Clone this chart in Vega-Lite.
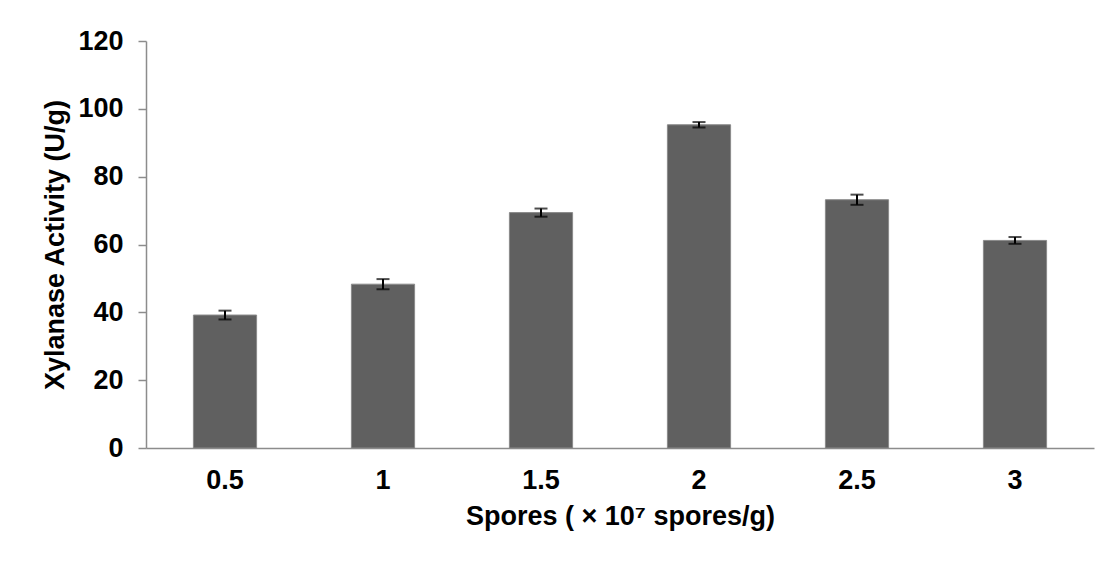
{
  "$schema": "https://vega.github.io/schema/vega-lite/v6.json",
  "autosize": {"type": "none"},
  "width": 948,
  "height": 407,
  "padding": {"left": 146, "top": 41, "right": 11, "bottom": 113},
  "background": "white",
  "config": {
    "view": {"stroke": null},
    "font": "Liberation Sans",
    "axis": {"labelFont": "Liberation Sans", "titleFont": "Liberation Sans", "labelFontWeight": "bold", "titleFontWeight": "bold", "labelColor": "black", "titleColor": "black", "domainColor": "#8c8c8c", "tickColor": "#8c8c8c", "grid": false}
  },
  "data": {
    "values": [
      {"spores": "0.5", "value": 39.2, "lo": 37.9, "hi": 40.5},
      {"spores": "1", "value": 48.3, "lo": 46.8, "hi": 49.8},
      {"spores": "1.5", "value": 69.4, "lo": 68.2, "hi": 70.6},
      {"spores": "2", "value": 95.3, "lo": 94.5, "hi": 96.1},
      {"spores": "2.5", "value": 73.2, "lo": 71.7, "hi": 74.7},
      {"spores": "3", "value": 61.2, "lo": 60.2, "hi": 62.2}
    ]
  },
  "encoding": {
    "x": {
      "field": "spores", "type": "ordinal", "sort": null,
      "scale": {"paddingInner": 0.6, "paddingOuter": 0.3},
      "axis": {"title": "Spores ( × 10⁷ spores/g)", "labelAngle": 0, "labelFontSize": 27, "titleFontSize": 27, "ticks": false, "labelPadding": 19, "titlePadding": 10, "domainWidth": 1.5}
    }
  },
  "layer": [
    {
      "mark": {"type": "bar", "color": "#606060", "stroke": "#8a8a8a", "strokeWidth": 1},
      "encoding": {
        "y": {
          "field": "value", "type": "quantitative",
          "scale": {"domain": [0, 120]},
          "axis": {"title": "Xylanase Activity (U/g)", "values": [0, 20, 40, 60, 80, 100, 120], "labelFontSize": 27, "titleFontSize": 27, "tickSize": 8, "labelPadding": 15, "titlePadding": 8, "domainWidth": 1.5, "tickWidth": 1.5}
        }
      }
    },
    {
      "mark": {"type": "rule", "color": "black", "strokeWidth": 2},
      "encoding": {"y": {"field": "lo", "type": "quantitative"}, "y2": {"field": "hi"}}
    },
    {
      "mark": {"type": "tick", "color": "black", "size": 13, "thickness": 2},
      "encoding": {"y": {"field": "lo", "type": "quantitative"}}
    },
    {
      "mark": {"type": "tick", "color": "black", "size": 13, "thickness": 2},
      "encoding": {"y": {"field": "hi", "type": "quantitative"}}
    }
  ]
}
